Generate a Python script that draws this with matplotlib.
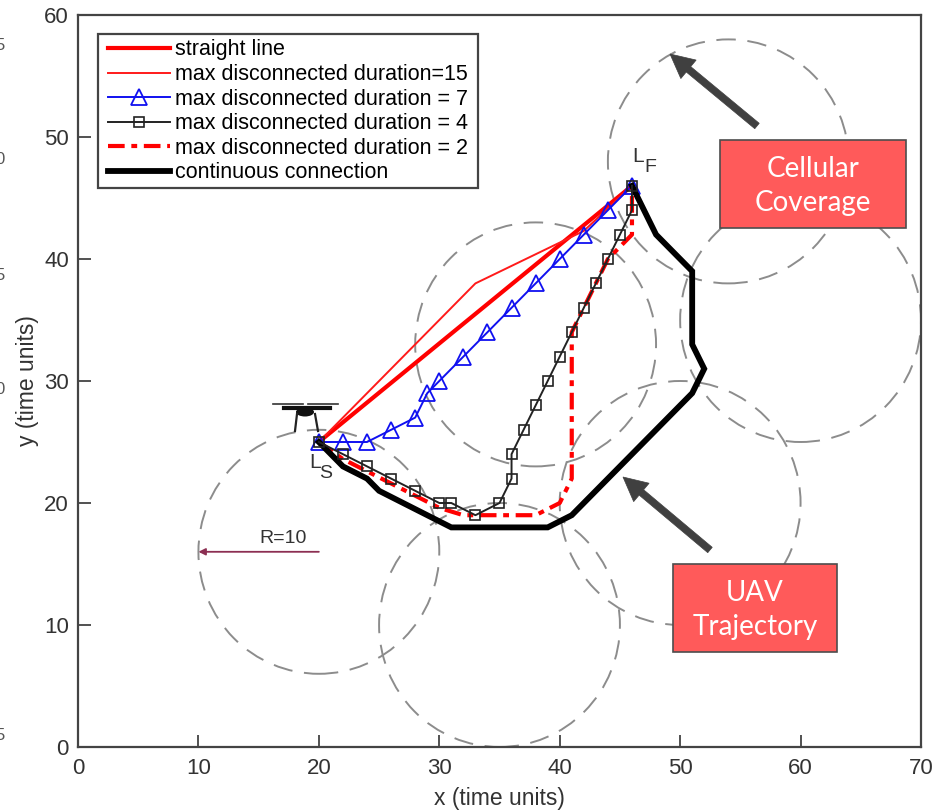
import matplotlib
matplotlib.use("Agg")
import matplotlib.pyplot as plt
from matplotlib.patches import Circle, Rectangle, FancyArrow, Ellipse

plt.rcParams['font.family'] = ['Liberation Sans', 'DejaVu Sans']

W, H = 933, 811

# ============================================================
# Data
# ============================================================
circle_x = [20, 35, 38, 50, 54, 60]
circle_y = [16, 10, 33, 20, 48, 35]
radius = 10

straight_x = [20, 46]
straight_y = [25, 46]

dur15_x = [20, 33, 42, 46]
dur15_y = [25, 38, 42.3, 46]

dur7_x = [20, 22, 24, 26, 28, 29, 30, 32, 34, 36, 38, 40, 42, 44, 46]
dur7_y = [25, 25, 25, 26, 27, 29, 30, 32, 34, 36, 38, 40, 42, 44, 46]

dur4_x = [20, 22, 24, 26, 28, 30, 31, 33, 35, 36, 36, 37, 38, 39, 40, 41, 42, 43, 44, 45, 46, 46]
dur4_y = [25, 24, 23, 22, 21, 20, 20, 19, 20, 22, 24, 26, 28, 30, 32, 34, 36, 38, 40, 42, 44, 46]

dur2_x = [20, 22, 24, 26, 28, 30, 32, 38, 40, 41, 41, 41, 42, 43, 44, 45, 46, 46]
dur2_y = [25, 23.6, 22.6, 21.6, 20.6, 19.6, 19, 19, 20, 22, 32, 34, 36, 38, 40, 41, 42, 46]

cont_x = [20, 22, 24, 25, 31, 39, 41, 43, 51, 52, 51, 51, 48, 46]
cont_y = [25, 23, 22, 21, 18, 18, 19, 21, 29, 31, 33, 39, 42, 46]

x_ticks = [0, 10, 20, 30, 40, 50, 60, 70]
y_ticks = [0, 10, 20, 30, 40, 50, 60]

labels = ['straight line', 'max disconnected duration=15',
          'max disconnected duration = 7', 'max disconnected duration = 4',
          'max disconnected duration = 2', 'continuous connection']

# stray digits cropped at the left edge of the screenshot
edge_digits = ['5', '0', '5', '0', '5']
edge_y = [45, 160, 275, 390, 735]


fig = plt.figure(figsize=(W / 100, H / 100), dpi=100)
ax = fig.add_axes([78 / W, 1 - 747 / H, (921 - 78) / W, (747 - 15) / H])

for cx, cy in zip(circle_x, circle_y):
    ax.add_patch(Circle((cx, cy), radius, fill=False, ec='#8c8c8c', lw=1.4,
                        ls=(0, (10, 6)), clip_on=False, zorder=1))

ax.plot(straight_x, straight_y, color='#ff0000', lw=3, label=labels[0], zorder=3)
ax.plot(dur15_x, dur15_y, color='#ff1a1a', lw=1.4, label=labels[1], zorder=3)
ax.plot(dur7_x, dur7_y, color='#1010f0', lw=1.4, marker='^', ms=11, mfc='none',
        mew=1.3, label=labels[2], zorder=4)
ax.plot(dur4_x, dur4_y, color='#222222', lw=1.4, marker='s', ms=7, mfc='none',
        mew=1.2, label=labels[3], zorder=5)
ax.plot(dur2_x, dur2_y, color='#ff0000', lw=3, ls=(0, (4, 1.6, 1.4, 1.6)),
        label=labels[4], zorder=4)
ax.plot(cont_x, cont_y, color='black', lw=4.2, label=labels[5], zorder=4,
        solid_joinstyle='miter')

ax.set_xlim(0, 70)
ax.set_ylim(0, 60)
ax.set_xticks(x_ticks)
ax.set_yticks(y_ticks)
ax.tick_params(direction='in', length=9, width=1.2, labelsize=16, color='#333333',
               labelcolor='#333333')
ax.tick_params(axis='x', pad=8)
ax.tick_params(axis='y', pad=6.5)
for s in ax.spines.values():
    s.set_linewidth(1.6)
    s.set_color('#444444')
ax.set_xlabel('x (time units)', fontsize=16.5, color='#333333', labelpad=5.5)
ax.set_ylabel('y (time units)', fontsize=16.5, color='#333333', labelpad=3.5)

leg = ax.legend(loc='upper left', bbox_to_anchor=(108 / W, 1 - 39.5 / H),
                bbox_transform=fig.transFigure, fontsize=15.5, frameon=False,
                borderaxespad=0, borderpad=0, labelspacing=0.165,
                handlelength=2.9, handletextpad=0.22)
leg.set_zorder(10)

ax.annotate('', xy=(10, 16), xytext=(20, 16), zorder=3,
            arrowprops=dict(arrowstyle='-|>', color='#8c2f52', lw=1.3, shrinkA=0, shrinkB=0))
ax.text(17, 16.4, 'R=10', fontsize=14, color='#333333', ha='center', va='bottom')

# overlay in screenshot pixels for the legend box, callouts, labels and drone icon
ov = fig.add_axes([0, 0, 1, 1], facecolor='none')
ov.set_xlim(0, W)
ov.set_ylim(H, 0)
ov.axis('off')
ov.set_zorder(20)

ax.add_patch(Rectangle((98, 34), 380, 154, transform=ov.transData, fc='white',
                       ec='#444444', lw=1.6, zorder=9))

ov.text(309, 462, 'L', fontsize=15, color='#333333', va='center')
ov.text(319, 474, 'S', fontsize=14, color='#333333', va='center')
ov.text(632, 156, 'L', fontsize=15, color='#333333', va='center')
ov.text(644, 168, 'F', fontsize=14, color='#333333', va='center')

for (x0, y0, w, h, txt) in [(720, 140, 186, 88, 'Cellular\nCoverage'),
                            (673, 564, 164, 88, 'UAV\nTrajectory')]:
    ov.add_patch(Rectangle((x0, y0), w, h, fc='#ff5a5a', ec='#4d4d4d', lw=1.2))
    ov.text(x0 + w / 2, y0 + h / 2 + 2, txt, color='white', fontsize=20, ha='center',
            va='center', linespacing=1.38, family=['Lato', 'Liberation Sans'])

for (x0, y0, x1, y1) in [(757, 126, 670, 54), (710, 550, 623, 477)]:
    ov.add_patch(FancyArrow(x0, y0, x1 - x0, y1 - y0, width=7, head_width=24, head_length=24,
                            length_includes_head=True, fc='#404040', ec='#404040', lw=0.5))

# drone icon
ov.plot([273, 303], [404, 404], color='#333333', lw=1.2)
ov.plot([308, 338], [404, 404], color='#333333', lw=1.2)
ov.plot([284, 330], [408, 408], color='#111111', lw=3)
ov.add_patch(Ellipse((305, 412), 18, 9, fc='#111111', ec='none'))
ov.plot([297, 295], [414, 431], color='#222222', lw=1.6)
ov.plot([315, 318], [414, 431], color='#222222', lw=1.6)

for d, py in zip(edge_digits, edge_y):
    ov.text(-5, py, d, fontsize=12, color='#555555', va='center')

fig.savefig('out.png', dpi=100)
